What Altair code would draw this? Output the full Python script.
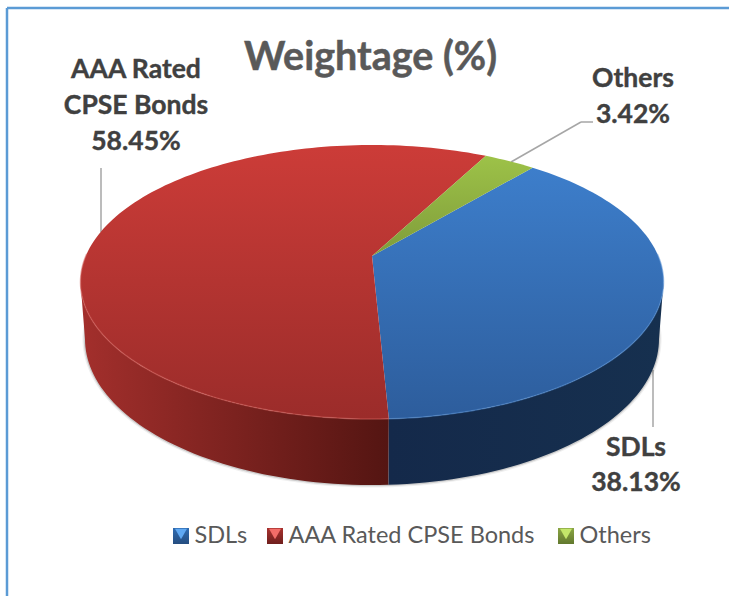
import math
import altair as alt

# Portfolio weights shown on the pie
categories = ["SDLs", "AAA Rated CPSE Bonds", "Others"]
weights = [38.13, 58.45, 3.42]
value_labels = ["38.13%", "58.45%", "3.42%"]

W, H = 729, 596
START_DEG = 40.0          # clockwise from the back of the disc, where SDLs begins
PERSP = -0.1898           # perspective foreshortening of the disc


def top_point(deg):
    """Project an angle on the circular disc to the tilted top face."""
    u, v = math.sin(math.radians(deg)), -math.cos(math.radians(deg))
    d = 1 + PERSP * v
    return [372 + 286.2 * u / d, (83.5 * v + 256) / d]


def base_point(deg):
    """Matching point on the lower rim of the disc."""
    x, y = top_point(deg)
    return [372 + (x - 372) * 0.9846, 339 + (y - 282) * 1.0657]


def sweep(a, b, fn):
    n = max(2, int(abs(b - a) / 1.5))
    return [fn(a + (b - a) * i / n) for i in range(n + 1)]


def polygon(coords):
    return {"type": "Feature", "properties": {},
            "geometry": {"type": "Polygon", "coordinates": [coords + [coords[0]]]}}


def polyline(coords):
    return {"type": "Feature", "properties": {},
            "geometry": {"type": "LineString", "coordinates": coords}}


PROJ = alt.Projection(type="identity", scale=1, translate=[0, 0])


def shape(feature, **mark):
    return alt.Chart(alt.Data(values=[feature])).mark_geoshape(**mark).project(**PROJ.to_dict())


def ramp(c1, c2, horizontal=False):
    return alt.Gradient(
        gradient="linear",
        x1=0, y1=0, x2=1 if horizontal else 0, y2=0 if horizontal else 1,
        stops=[alt.GradientStop(color=c1, offset=0), alt.GradientStop(color=c2, offset=1)],
    )


def face(feature, fill):
    return shape(feature, fill=fill, stroke=None, strokeWidth=0)


def rule(x, y, x2, y2):
    return alt.Chart(alt.Data(values=[{}])).mark_rule(color="#a6a6a6", strokeWidth=1.5).encode(
        x=alt.value(x), y=alt.value(y), x2=alt.value(x2), y2=alt.value(y2))


def text(label, x, y, size, color, weight="bold", align="center", thicken=0.0):
    opts = {"stroke": color, "strokeWidth": thicken} if thicken else {}
    return alt.Chart(alt.Data(values=[{"t": label}])).mark_text(
        font="Lato", fontSize=size, fontWeight=weight, color=color,
        align=align, baseline="alphabetic", **opts,
    ).encode(text="t:N", x=alt.value(x), y=alt.value(y))


# Slice angles follow directly from the weights
bounds = [START_DEG]
for w in weights:
    bounds.append(bounds[-1] + w * 3.6)
(sdl_a, sdl_b), (aaa_a, aaa_b), (oth_a, oth_b) = zip(bounds[:-1], bounds[1:])
apex = [372, 256]

top_sdl = polygon([apex] + sweep(sdl_a, sdl_b, top_point))
top_aaa = polygon([apex] + sweep(aaa_a, aaa_b, top_point))
top_oth = polygon([apex] + sweep(oth_a, oth_b, top_point))

# Walls run between the two silhouette tangents of the disc
RIGHT_TANGENT, LEFT_TANGENT = 101, 259
wall_right = polygon(sweep(RIGHT_TANGENT, sdl_b, top_point) + sweep(sdl_b, RIGHT_TANGENT, base_point))
wall_left = polygon(sweep(sdl_b, LEFT_TANGENT, top_point) + sweep(LEFT_TANGENT, sdl_b, base_point))
shadow_edge = polyline(sweep(RIGHT_TANGENT - 5, LEFT_TANGENT + 5, base_point))

layers = [
    # frame around the chart
    alt.Chart(alt.Data(values=[{}])).mark_rule(color="#5b9bd5", strokeWidth=2.5).encode(
        x=alt.value(7), x2=alt.value(W), y=alt.value(8), y2=alt.value(8)),
    alt.Chart(alt.Data(values=[{}])).mark_rule(color="#5b9bd5", strokeWidth=2.5).encode(
        x=alt.value(7), x2=alt.value(7), y=alt.value(8), y2=alt.value(H)),
    # leader lines
    rule(101, 168, 101, 232),
    rule(511, 162, 581, 122),
    rule(581, 122, 593, 122),
    rule(653, 370, 653, 427),
    # soft shadow beneath the disc
    shape(shadow_edge, filled=False, stroke="#000000", strokeWidth=5, opacity=0.06),
    shape(shadow_edge, filled=False, stroke="#000000", strokeWidth=2.5, opacity=0.14),
    # side wall
    face(wall_left, ramp("#a32f2c", "#541512", horizontal=True)),
    face(wall_right, ramp("#14294a", "#16304f", horizontal=True)),
    # top faces
    face(top_sdl, ramp("#3d7ecb", "#2d5d9c")),
    face(top_aaa, ramp("#cc3c38", "#9b2c2a")),
    face(top_oth, ramp("#9dc248", "#7f9c3a")),
    # bevel along the front rim
    shape(polyline(sweep(sdl_b, LEFT_TANGENT + 12, top_point)), filled=False, stroke="#d4605b", strokeWidth=1.5, opacity=0.5),
    shape(polyline(sweep(RIGHT_TANGENT - 12, sdl_b, top_point)), filled=False, stroke="#4f8bd2", strokeWidth=1.5, opacity=0.5),
    # title
    text("Weightage (%)", 370.5, 70, 39.5, "#595959", thicken=0.5),
    # data labels
    text("AAA Rated", 136, 78, 26.5, "#404040", thicken=0.4),
    text("CPSE Bonds", 136, 114, 26.5, "#404040", thicken=0.4),
    text(value_labels[1], 136, 150, 26.5, "#404040", thicken=0.4),
    text(categories[2], 633, 87, 26.5, "#404040", thicken=0.4),
    text(value_labels[2], 633, 123, 26.5, "#404040", thicken=0.4),
    text(categories[0], 636, 456, 26.5, "#404040", thicken=0.4),
    text(value_labels[0], 636, 491, 26.5, "#404040", thicken=0.4),
]

# Legend entries: bevelled swatch plus label
legend_fill = [("#2f6cb2", "#254d80", "#5fa8f2"),
               ("#a8322f", "#6f1f1d", "#f26d68"),
               ("#8ba644", "#62782e", "#c4e66a")]
legend_x = [181, 275, 566]
for name, x, (c1, c2, hi) in zip(categories, legend_x, legend_fill):
    base = alt.Chart(alt.Data(values=[{}]))
    layers.append(base.mark_square(fill=ramp(c1, c2), size=256, opacity=1, strokeWidth=0).encode(
        x=alt.value(x), y=alt.value(536)))
    layers.append(base.mark_point(shape="triangle-down", filled=True, fill=hi, size=144, opacity=1).encode(
        x=alt.value(x), y=alt.value(534)))
    layers.append(text(name, x + 13.5, 543, 23.5, "#595959", weight="normal", align="left"))

chart = alt.layer(*layers).properties(
    width=W, height=H, padding=0, autosize=alt.AutoSizeParams(type="none"),
    background="#ffffff",
).configure_view(stroke=None)

chart.save("out.html", embed_options={"renderer": "svg", "actions": False})
